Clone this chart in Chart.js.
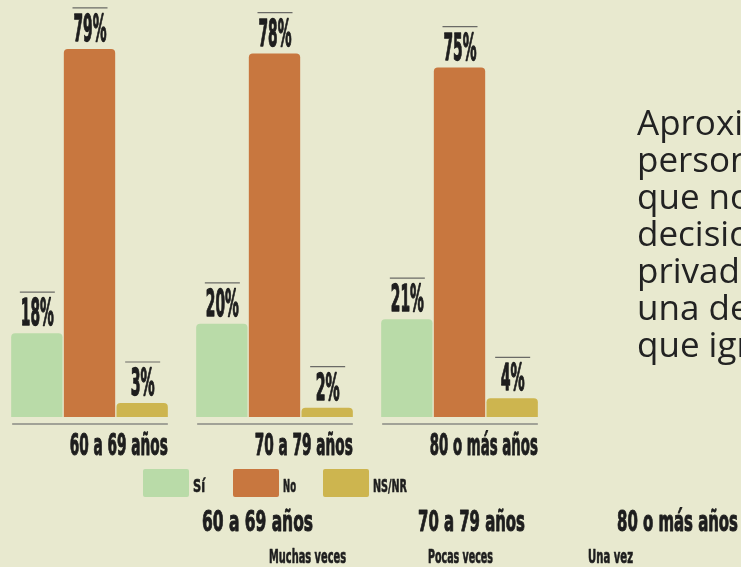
<!DOCTYPE html>
<html>
<head>
<meta charset="utf-8">
<script src="https://cdn.jsdelivr.net/npm/chart.js@4"></script>
<style>
  html, body { margin: 0; padding: 0; background: #e8e9cf; overflow: hidden; }
  #wrap { position: absolute; left: -3px; top: 0; width: 744px; height: 567px; }
</style>
</head>
<body>
<div id="wrap"><canvas id="c" width="744" height="567"></canvas></div>
<script>
// ─── data ───────────────────────────────────────────────
const categories = ['60 a 69 años', '70 a 79 años', '80 o más años'];
const seriesNames = ['Sí', 'No', 'NS/NR'];
const siValues = [18, 20, 21];
const noValues = [79, 78, 75];
const nsnrValues = [3, 2, 4];
const frequencyLabels = ['Muchas veces', 'Pocas veces', 'Una vez'];
const noteLines = ['Aproximadamente', 'personas', 'que no', 'decisiones', 'privadas', 'una de', 'que ignoran'];

const colors = ['#b9dba8', '#c8773f', '#cdb54f'];
const INK = '#1e1e1e';
const COND = '"Liberation Sans Narrow", "DejaVu Sans Condensed", sans-serif';
const OFF = 3; // canvas x = page x + OFF

// condensed bold text squeezed to a given width (a light stroke makes it heavier)
function fitText(ctx, text, x, y, size, width, align) {
  ctx.save();
  ctx.font = `bold ${size}px ${COND}`;
  const w = ctx.measureText(text).width;
  const sx = width / w;
  ctx.translate(x, y);
  ctx.scale(sx, 1);
  ctx.textAlign = align || 'left';
  ctx.textBaseline = 'alphabetic';
  ctx.fillStyle = INK;
  ctx.strokeStyle = INK;
  ctx.lineWidth = size / 30;
  ctx.lineJoin = 'round';
  ctx.fillText(text, 0, 0);
  ctx.strokeText(text, 0, 0);
  ctx.restore();
}

const decor = {
  id: 'decor',
  afterDatasetsDraw(chart) {
    const ctx = chart.ctx;
    // value labels with overline
    chart.data.datasets.forEach((ds, di) => {
      chart.getDatasetMeta(di).data.forEach((bar, i) => {
        const v = ds.data[i];
        ctx.save();
        ctx.strokeStyle = '#6a6a66'; ctx.lineWidth = 1.2;
        ctx.beginPath(); ctx.moveTo(bar.x - 17, bar.y - 41); ctx.lineTo(bar.x + 18, bar.y - 41); ctx.stroke();
        ctx.restore();
        fitText(ctx, v + '%', bar.x + 0.5, bar.y - 8, 38, v >= 10 ? 33 : 24, 'center');
      });
    });
    // group baselines + labels
    const metas = chart.data.datasets.map((d, i) => chart.getDatasetMeta(i));
    categories.forEach((c, i) => {
      const first = metas[0].data[i], last = metas[metas.length - 1].data[i];
      const l = first.x - first.width / 2, r = last.x + last.width / 2;
      ctx.save();
      ctx.strokeStyle = '#8a8a84'; ctx.lineWidth = 1.6;
      ctx.beginPath(); ctx.moveTo(l + 1, 424); ctx.lineTo(r, 424); ctx.stroke();
      ctx.restore();
      fitText(ctx, c, r, 455, 31, c.length > 12 ? 108 : 98, 'right');
    });

    ctx.save();
    ctx.translate(OFF, 0);
    // legend
    const legX = [143, 233, 323];
    const legW = [12, 13, 34];
    seriesNames.forEach((n, i) => {
      ctx.fillStyle = colors[i];
      ctx.beginPath(); ctx.roundRect(legX[i], 469, 46, 28, 2); ctx.fill();
      fitText(ctx, n, legX[i] + 50, 492, 18, legW[i], 'left');
    });
    // second row of age labels and frequency labels
    const ageX = [202, 418, 617], ageW = [111, 107, 121];
    categories.forEach((c, i) => fitText(ctx, c, ageX[i], 531, 29, ageW[i], 'left'));
    const frX = [269, 428, 588], frW = [77, 65, 45];
    frequencyLabels.forEach((f, i) => fitText(ctx, f, frX[i], 563, 19, frW[i], 'left'));
    // note text on the right
    ctx.fillStyle = '#222';
    ctx.font = '35px "Open Sans", "Noto Sans", sans-serif';
    ctx.textAlign = 'left';
    ctx.textBaseline = 'alphabetic';
    noteLines.forEach((t, i) => ctx.fillText(t, 637, 135 + 37 * i));
    ctx.restore();
  }
};

const datasets = [siValues, noValues, nsnrValues].map((vals, i) => ({
  label: seriesNames[i],
  data: vals,
  backgroundColor: colors[i],
  borderRadius: { topLeft: 4, topRight: 4, bottomLeft: 0, bottomRight: 0 },
  borderSkipped: 'bottom',
  categoryPercentage: 0.854,
  barPercentage: 0.975
}));

new Chart(document.getElementById('c'), {
  type: 'bar',
  data: { labels: categories, datasets },
  options: {
    responsive: false,
    animation: false,
    events: [],
    layout: { padding: { left: 0, right: 189, top: 21, bottom: 150 } },
    plugins: { legend: { display: false }, tooltip: { enabled: false } },
    scales: {
      x: { display: false, offset: true },
      y: { display: false, min: 0, max: 85 }
    }
  },
  plugins: [decor]
});
</script>
</body>
</html>
